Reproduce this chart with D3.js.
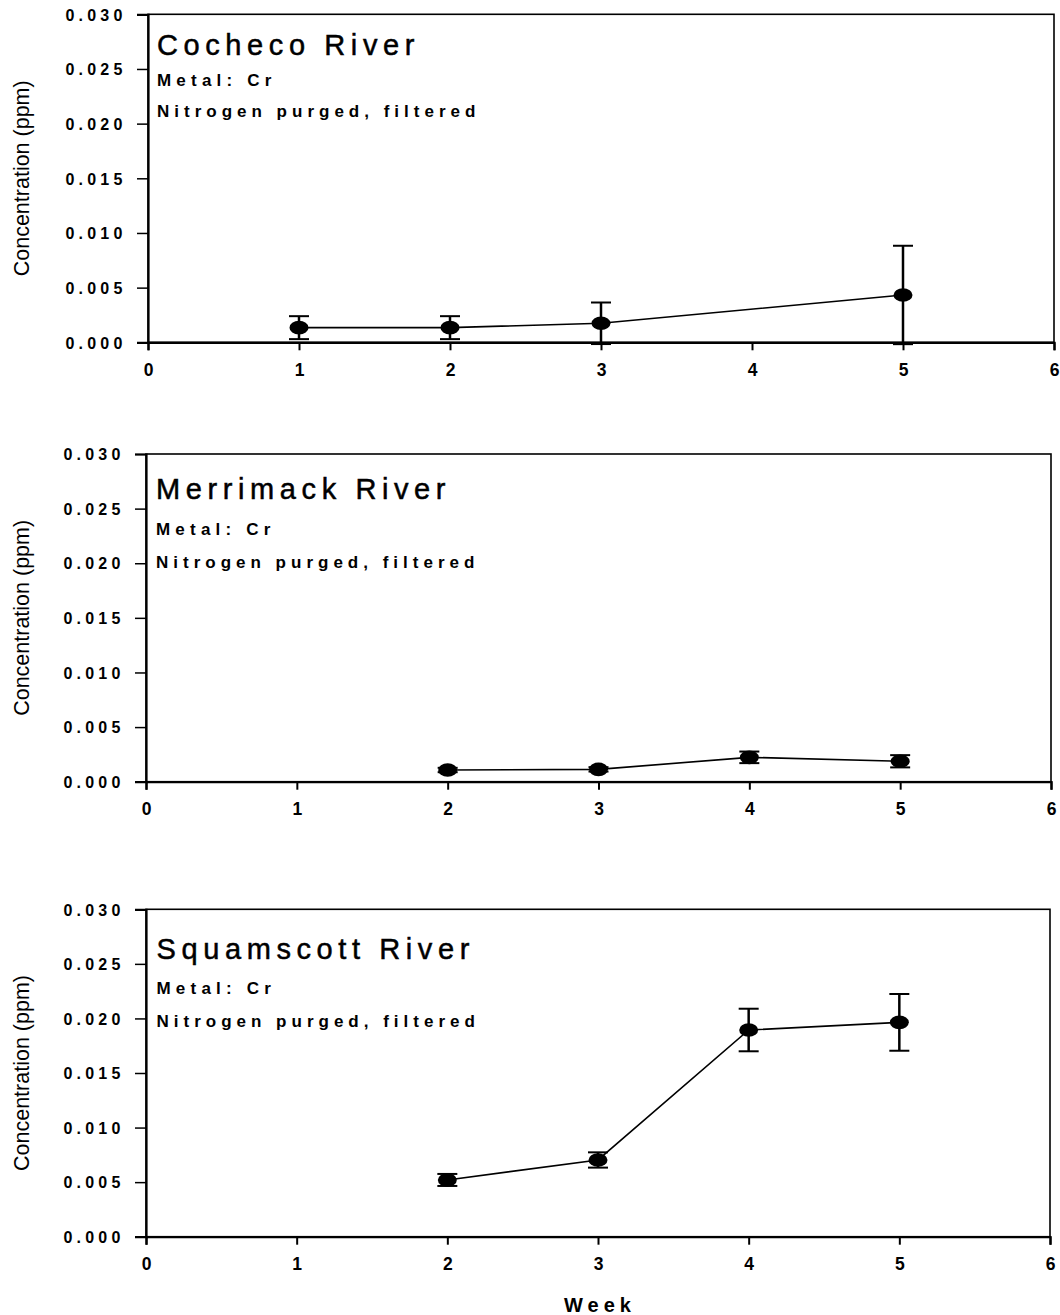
<!DOCTYPE html>
<html>
<head>
<meta charset="utf-8">
<script src="https://cdn.jsdelivr.net/npm/d3@7"></script>
<style>
  html, body { margin: 0; padding: 0; background: #fff; }
  svg { display: block; }
  text { font-family: "Liberation Sans", Arial, Helvetica, sans-serif; fill: #000; }
</style>
</head>
<body>
<svg id="chart" width="1060" height="1315"></svg>
<script>
// ---- Data ----
const rivers = ["Cocheco River", "Merrimack River", "Squamscott River"];
const metalLabel = "Metal: Cr";
const treatmentLabel = "Nitrogen purged, filtered";

const cochecoWeeks = [1, 2, 3, 5];
const cochecoValues = [0.00134, 0.00134, 0.00174, 0.00433];
const cochecoErrors = [0.00105, 0.00105, 0.0019, 0.0045];

const merrimackWeeks = [2, 3, 4, 5];
const merrimackValues = [0.00107, 0.00113, 0.00223, 0.00187];
const merrimackErrors = [0.0002, 0.0002, 0.00053, 0.00056];

const squamscottWeeks = [2, 3, 4, 5];
const squamscottValues = [0.0052, 0.00703, 0.01894, 0.01964];
const squamscottErrors = [0.00055, 0.0007, 0.00195, 0.0026];

const xTicks = [0, 1, 2, 3, 4, 5, 6];
const yTicks = [0, 0.005, 0.010, 0.015, 0.020, 0.025, 0.030];
const xDomain = [0, 6];
const yDomain = [0, 0.030];
const yAxisTitle = "Concentration (ppm)";
const xAxisTitle = "Week";

// ---- Layout (positions only) ----
const layout = [
  { left: 148, right: 1054, top: 14.3, bottom: 342.3, textX: 157, titleDy: 41, metalDy: 72, treatDy: 102.5 },
  { left: 146, right: 1051, top: 454, bottom: 781.7, textX: 156, titleDy: 45, metalDy: 81, treatDy: 114 },
  { left: 146, right: 1050, top: 909.3, bottom: 1236.7, textX: 156.5, titleDy: 50, metalDy: 85, treatDy: 118 }
];

const series = [
  { weeks: cochecoWeeks, values: cochecoValues, errors: cochecoErrors },
  { weeks: merrimackWeeks, values: merrimackValues, errors: merrimackErrors },
  { weeks: squamscottWeeks, values: squamscottValues, errors: squamscottErrors }
];

const svg = d3.select("#chart");
const fmt = d3.format(".3f");

layout.forEach((L, i) => {
  const x = d3.scaleLinear().domain(xDomain).range([L.left, L.right]);
  const y = d3.scaleLinear().domain(yDomain).range([L.bottom, L.top]);
  const g = svg.append("g");

  // frame
  g.append("rect")
    .attr("x", L.left).attr("y", L.top)
    .attr("width", L.right - L.left).attr("height", L.bottom - L.top)
    .attr("fill", "none").attr("stroke", "#000").attr("stroke-width", 1.6);

  // y axis
  const yAxis = d3.axisLeft(y).tickValues(yTicks).tickSize(11).tickFormat(fmt);
  const ya = g.append("g").attr("transform", `translate(${L.left},0)`).call(yAxis);
  ya.select(".domain").attr("stroke-width", 2.2);
  ya.selectAll(".tick line").attr("stroke-width", 1.5);
  ya.selectAll(".tick text")
    .attr("x", -21.5)
    .attr("dy", "0.36em")
    .style("font-size", "16px")
    .style("font-weight", "bold")
    .style("letter-spacing", "4.2px")
    .attr("fill", "#000");

  // x axis
  const xAxis = d3.axisBottom(x).tickValues(xTicks).tickSize(8).tickFormat(d3.format("d"));
  const xa = g.append("g").attr("transform", `translate(0,${L.bottom})`).call(xAxis);
  xa.select(".domain").attr("stroke-width", 2.2);
  xa.selectAll(".tick line").attr("stroke-width", 2);
  xa.selectAll(".tick text")
    .attr("y", 21)
    .attr("dy", "0.71em")
    .style("font-size", "17.5px")
    .style("font-weight", "bold")
    .attr("fill", "#000");

  // y axis title
  g.append("text")
    .attr("transform", `translate(29,${(L.top + L.bottom) / 2}) rotate(-90)`)
    .attr("text-anchor", "middle")
    .style("font-size", "21.5px")
    .text(yAxisTitle);

  // annotations
  g.append("text").attr("x", L.textX).attr("y", L.top + L.titleDy)
    .style("font-size", "29px").style("letter-spacing", "5.6px")
    .style("stroke", "#000").style("stroke-width", "0.5px")
    .text(rivers[i]);
  g.append("text").attr("x", L.textX).attr("y", L.top + L.metalDy)
    .style("font-size", "17px").style("font-weight", "bold").style("letter-spacing", "5.2px")
    .text(metalLabel);
  g.append("text").attr("x", L.textX).attr("y", L.top + L.treatDy)
    .style("font-size", "17px").style("font-weight", "bold").style("letter-spacing", "5px")
    .text(treatmentLabel);

  // data
  const S = series[i];
  const pts = S.weeks.map((w, k) => ({ w, v: S.values[k], e: S.errors[k] }));

  const line = d3.line().x(d => x(d.w)).y(d => y(d.v));
  g.append("path").datum(pts).attr("d", line)
    .attr("fill", "none").attr("stroke", "#000").attr("stroke-width", 1.6);

  const eb = g.append("g");
  eb.selectAll("line.v").data(pts).join("line")
    .attr("x1", d => x(d.w)).attr("x2", d => x(d.w))
    .attr("y1", d => y(d.v - d.e)).attr("y2", d => y(d.v + d.e))
    .attr("stroke", "#000").attr("stroke-width", 2.5);
  eb.selectAll("line.t").data(pts).join("line")
    .attr("x1", d => x(d.w) - 10).attr("x2", d => x(d.w) + 10)
    .attr("y1", d => y(d.v + d.e)).attr("y2", d => y(d.v + d.e))
    .attr("stroke", "#000").attr("stroke-width", 2);
  eb.selectAll("line.b").data(pts).join("line")
    .attr("x1", d => x(d.w) - 10).attr("x2", d => x(d.w) + 10)
    .attr("y1", d => y(d.v - d.e)).attr("y2", d => y(d.v - d.e))
    .attr("stroke", "#000").attr("stroke-width", 2);

  g.selectAll("ellipse").data(pts).join("ellipse")
    .attr("cx", d => x(d.w)).attr("cy", d => y(d.v))
    .attr("rx", 9.5).attr("ry", 6.8)
    .attr("fill", "#000");
});

// x axis title
svg.append("text")
  .attr("x", 600).attr("y", 1311.5)
  .attr("text-anchor", "middle")
  .style("font-size", "20px").style("font-weight", "bold").style("letter-spacing", "5px")
  .text(xAxisTitle);
</script>
</body>
</html>
